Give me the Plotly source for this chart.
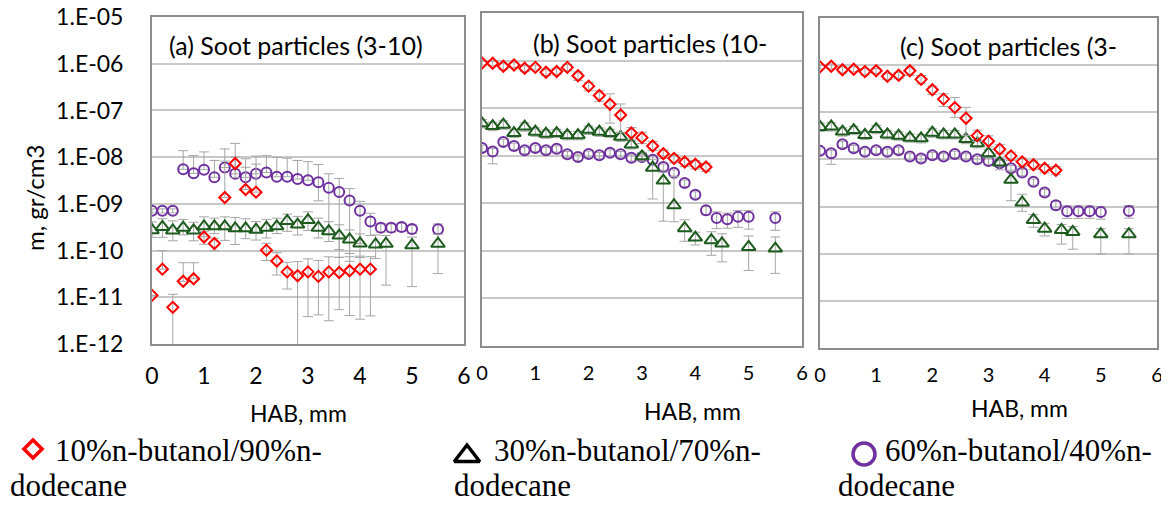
import plotly.graph_objects as go

# ---------------- data ----------------
x_red = [0, 0.2, 0.4, 0.6, 0.8, 1.0, 1.2, 1.4, 1.6, 1.8, 2.0, 2.2, 2.4, 2.6, 2.8, 3.0, 3.2, 3.4, 3.6, 3.8, 4.0, 4.2]
x_grn = [0, 0.2, 0.4, 0.6, 0.8, 1.0, 1.2, 1.4, 1.6, 1.8, 2.0, 2.2, 2.4, 2.6, 2.8, 3.0, 3.2, 3.4, 3.6, 3.8, 4.0, 4.3, 4.5, 5.0, 5.5]
x_pur = [0, 0.2, 0.4, 0.6, 0.8, 1.0, 1.2, 1.4, 1.6, 1.8, 2.0, 2.2, 2.4, 2.6, 2.8, 3.0, 3.2, 3.4, 3.6, 3.8, 4.0, 4.2, 4.4, 4.6, 4.8, 5.0, 5.5]

# panel (a)
ya_red = [1.1e-11, 4.0e-11, 6.1e-12, 2.2e-11, 2.5e-11, 1.95e-10, 1.42e-10, 1.37e-9, 7.3e-9, 2.03e-9, 1.78e-9,
          1.02e-10, 6.0e-11, 3.5e-11, 2.9e-11, 3.5e-11, 2.8e-11, 3.5e-11, 3.4e-11, 3.7e-11, 4.0e-11, 4.0e-11]
ua_red = [0, 1.5, 0.9, 1.5, 1.2, 0.3, 0.3, 5.0, 1.7, 2.0, 3.0, 0.4, 0.5, 0.6, 1.0, 0.9, 1.2, 1.1, 1.1, 1.0, 0.9, 0.85]
da_red = [0, 0, 0.95, 0, 0, 0.3, 0.3, 0, 0.5, 0, 0, 0.4, 0.5, 0.57, 0.99, 0.89, 0.85, 0.91, 0.84, 0.89, 0.915, 0.9]

ya_grn = [2.74e-10, 3.2e-10, 2.7e-10, 3.1e-10, 2.7e-10, 3.3e-10, 3.3e-10, 3.3e-10, 3.0e-10, 3.0e-10, 2.8e-10,
          3.1e-10, 3.3e-10, 4.3e-10, 3.6e-10, 4.5e-10, 3.1e-10, 2.6e-10, 2.1e-10, 1.73e-10, 1.42e-10,
          1.35e-10, 1.4e-10, 1.3e-10, 1.4e-10]
ua_grn = [0.5, 0.5, 0.6, 0.5, 0.5, 0.6, 0.5, 0.6, 0.7, 0.6, 0.5, 0.5, 0.5, 0.4, 0.5, 0.5, 0.6, 0.6, 0.7, 0.6, 0.6,
          0.6, 0.5, 0.5, 0.6]
da_grn = [0.3, 0.4, 0.4, 0.3, 0.4, 0.4, 0.3, 0.5, 0.55, 0.4, 0.4, 0.4, 0.3, 0.4, 0.4, 0.4, 0.4, 0.4, 0.5, 0.5, 0.5,
          0.5, 0.87, 0.87, 0.77]

ya_pur = [7.1e-10, 7.1e-10, 7.1e-10, 5.5e-9, 4.5e-9, 5.4e-9, 3.7e-9, 6.0e-9, 4.4e-9, 3.7e-9, 4.4e-9, 4.7e-9,
          3.8e-9, 3.8e-9, 3.4e-9, 3.2e-9, 2.9e-9, 2.2e-9, 1.8e-9, 1.18e-9, 7.1e-10, 4.2e-10, 3.1e-10, 3.1e-10,
          3.2e-10, 2.9e-10, 2.85e-10]
ua_pur = [0.1, 0.1, 0.1, 1.5, 1.4, 1.4, 1.3, 1.5, 1.3, 1.5, 1.4, 1.3, 1.6, 1.5, 1.5, 1.5, 1.4, 1.0, 0.95, 0.8,
          0.6, 0.5, 0.2, 0.2, 0.2, 0.2, 0.3]
da_pur = [0.1, 0.1, 0.1, 0, 0, 0, 0, 0, 0, 0, 0, 0, 0, 0, 0, 0, 0.6, 0.9, 0.96, 0.95, 0.8, 0.5, 0.2, 0.2,
          0.2, 0.2, 0.2]

# panel (b)
yb_red = [8.9e-7, 8.8e-7, 7.6e-7, 8.1e-7, 6.9e-7, 7.2e-7, 5.7e-7, 5.9e-7, 7.2e-7, 4.8e-7, 2.9e-7, 1.85e-7,
          1.21e-7, 7.2e-8, 3.0e-8, 2.4e-8, 1.6e-8, 1.1e-8, 8.8e-9, 7.4e-9, 6.6e-9, 5.8e-9]
ub_red = [0.1, 0.12, 0.15, 0.12, 0.15, 0.12, 0.15, 0.15, 0.15, 0.2, 0.2, 0.25, 0.65, 0.7, 0.3, 0.3, 0.25, 0.2,
          0.2, 0.2, 0.2, 0.2]
db_red = [0.1, 0.12, 0.15, 0.12, 0.15, 0.12, 0.15, 0.15, 0.15, 0.2, 0.2, 0.25, 0.6, 0.57, 0.25, 0.25, 0.2, 0.2,
          0.2, 0.2, 0.2, 0.2]

yb_grn = [4.8e-8, 4.2e-8, 4.5e-8, 3.0e-8, 4.1e-8, 3.2e-8, 2.9e-8, 3.0e-8, 2.7e-8, 2.7e-8, 3.5e-8, 3.2e-8,
          3.0e-8, 2.5e-8, 1.73e-8, 9.7e-9, 5.6e-9, 3.0e-9, 9.1e-10, 3.0e-10, 1.9e-10, 1.68e-10, 1.43e-10,
          1.21e-10, 1.12e-10]
ub_grn = [0.2, 0.2, 0.2, 0.2, 0.2, 0.2, 0.2, 0.2, 0.2, 0.2, 0.2, 0.2, 0.2, 0.2, 0.2, 0.2, 0.5, 0.5, 3.0, 0.5,
          0.3, 0.5, 0.6, 0.7, 0.75]
db_grn = [0.2, 0.2, 0.2, 0.2, 0.2, 0.2, 0.2, 0.2, 0.2, 0.2, 0.2, 0.2, 0.2, 0.2, 0.2, 0.2, 0.78, 0.86, 0.55, 0.47,
          0.3, 0.52, 0.59, 0.68, 0.7]

yb_pur = [1.45e-8, 1.23e-8, 1.94e-8, 1.6e-8, 1.3e-8, 1.45e-8, 1.3e-8, 1.4e-8, 1.07e-8, 9.4e-9, 1.09e-8, 1.02e-8,
          1.16e-8, 1.07e-8, 9.1e-9, 9.4e-9, 8.2e-9, 5.8e-9, 4.4e-9, 2.67e-9, 1.52e-9, 7.1e-10, 4.9e-10, 4.6e-10,
          5.2e-10, 5.2e-10, 4.9e-10]
ub_pur = [0.15, 0.15, 0.15, 0.15, 0.15, 0.15, 0.15, 0.15, 0.15, 0.15, 0.15, 0.15, 0.15, 0.15, 0.15, 0.15, 0.15,
          0.15, 0.15, 0.15, 0.15, 0.2, 0.35, 0.35, 0.35, 0.35, 0.35]
db_pur = [0.15, 0.45, 0.15, 0.15, 0.15, 0.15, 0.15, 0.15, 0.15, 0.15, 0.15, 0.15, 0.15, 0.15, 0.15, 0.15, 0.15,
          0.15, 0.15, 0.15, 0.15, 0.2, 0.4, 0.35, 0.4, 0.45, 0.45]

# panel (c)
yc_red = [9.2e-7, 9.5e-7, 8.0e-7, 8.2e-7, 7.3e-7, 7.6e-7, 5.8e-7, 6.1e-7, 7.6e-7, 5.0e-7, 3.0e-7, 1.9e-7,
          1.26e-7, 7.5e-8, 3.2e-8, 2.44e-8, 1.65e-8, 1.19e-8, 8.9e-9, 7.7e-9, 6.5e-9, 5.9e-9]
uc_red = [0.1, 0.12, 0.15, 0.12, 0.15, 0.12, 0.15, 0.15, 0.2, 0.2, 0.2, 0.3, 0.63, 0.7, 0.3, 0.3, 0.25, 0.2,
          0.2, 0.2, 0.2, 0.2]
dc_red = [0.1, 0.12, 0.15, 0.12, 0.15, 0.12, 0.15, 0.15, 0.2, 0.2, 0.2, 0.3, 0.38, 0.57, 0.25, 0.25, 0.2, 0.2,
          0.2, 0.2, 0.2, 0.2]

yc_grn = [4.9e-8, 5.0e-8, 3.9e-8, 4.2e-8, 3.3e-8, 4.4e-8, 3.4e-8, 3.2e-8, 2.9e-8, 2.8e-8, 3.7e-8, 3.4e-8,
          3.4e-8, 2.7e-8, 2.2e-8, 1.36e-8, 8.6e-9, 3.7e-9, 1.22e-9, 5.2e-10, 3.4e-10, 3.2e-10, 2.9e-10,
          2.6e-10, 2.6e-10]
uc_grn = [0.2, 0.2, 0.2, 0.2, 0.2, 0.2, 0.2, 0.2, 0.2, 0.2, 0.2, 0.2, 0.2, 0.2, 0.2, 0.2, 0.3, 0.6, 0.5, 0.3,
          0.3, 0.3, 0.3, 0.3, 0.3]
dc_grn = [0.2, 0.2, 0.2, 0.2, 0.2, 0.2, 0.2, 0.2, 0.2, 0.2, 0.2, 0.2, 0.2, 0.2, 0.2, 0.2, 0.3, 0.64, 0.35, 0.3,
          0.3, 0.5, 0.57, 0.62, 0.62]

yc_pur = [1.52e-8, 1.36e-8, 2.1e-8, 1.73e-8, 1.45e-8, 1.57e-8, 1.45e-8, 1.57e-8, 1.15e-8, 1.05e-8, 1.23e-8,
          1.15e-8, 1.3e-8, 1.15e-8, 1.01e-8, 9.3e-9, 8.3e-9, 6.5e-9, 5.3e-9, 3.35e-9, 1.99e-9, 1.07e-9, 8.0e-10,
          8.0e-10, 8.0e-10, 7.7e-10, 8.1e-10]
uc_pur = [0.15, 0.15, 0.15, 0.15, 0.15, 0.15, 0.15, 0.15, 0.15, 0.15, 0.15, 0.15, 0.15, 0.15, 0.15, 0.15, 0.15,
          0.15, 0.15, 0.15, 0.15, 0.2, 0.3, 0.3, 0.3, 0.3, 0.3]
dc_pur = [0.15, 0.42, 0.15, 0.15, 0.15, 0.15, 0.15, 0.15, 0.15, 0.15, 0.15, 0.15, 0.15, 0.15, 0.15, 0.15, 0.15,
          0.15, 0.15, 0.15, 0.15, 0.2, 0.3, 0.3, 0.3, 0.3, 0.3]

y_ticks = [1e-12, 1e-11, 1e-10, 1e-9, 1e-8, 1e-7, 1e-6, 1e-5]
y_ticktext = ["1.E-12", "1.E-11", "1.E-10", "1.E-09", "1.E-08", "1.E-07", "1.E-06", "1.E-05"]
x_ticks = [0, 1, 2, 3, 4, 5, 6]
panel_titles = ["(a) Soot particles (3-10)", "(b) Soot particles (10-", "(c) Soot particles (3-"]
series_names = ["10%n-butanol/90%n-", "30%n-butanol/70%n-", "60%n-butanol/40%n-"]
series_line2 = "dodecane"

# ---------------- style ----------------
PAGE_W, PAGE_H = 1169, 505
OFF = 8                      # default body margin of the html page
W, H = PAGE_W - OFF, PAGE_H - OFF
RED, GRN, PUR = "#FF0000", "#1E5B1E", "#7030A0"
ERR = "#A6A6A6"
FONT = "Lato"
SERIF = "Liberation Serif"

# plot boxes in page pixels: (left, right, top, bottom)
boxes = [(152, 464, 17, 344), (482, 802, 13, 346), (820, 1157, 18, 348)]
xtick_size = [23, 20, 20]
xtick_standoff = [10, 8, 8]


def px(x):
    return (x - OFF) / W


def py(y):
    return 1 - (y - OFF) / H


fig = go.Figure()


def add_series(k, x, y, up, dn, symbol, color, size):
    xa = "x" if k == 0 else f"x{k+1}"
    ya = "y" if k == 0 else f"y{k+1}"
    fig.add_trace(go.Scatter(
        x=x, y=y, mode="markers", xaxis=xa, yaxis=ya, showlegend=False,
        marker=dict(symbol=symbol, size=size, color=color, line=dict(color=color, width=2)),
        error_y=dict(type="data", symmetric=False,
                     array=[v * u for v, u in zip(y, up)],
                     arrayminus=[v * d for v, d in zip(y, dn)],
                     color=ERR, thickness=1, width=5),
    ))


panels = [
    (ya_red, ua_red, da_red, ya_grn, ua_grn, da_grn, ya_pur, ua_pur, da_pur),
    (yb_red, ub_red, db_red, yb_grn, ub_grn, db_grn, yb_pur, ub_pur, db_pur),
    (yc_red, uc_red, dc_red, yc_grn, uc_grn, dc_grn, yc_pur, uc_pur, dc_pur),
]

for k, (yr, ur, dr, yg, ug, dg, yp, up, dp) in enumerate(panels):
    add_series(k, x_pur, yp, up, dp, "circle-open", PUR, 10)
    add_series(k, x_grn, yg, ug, dg, "triangle-up-open", GRN, 12)
    add_series(k, x_red, yr, ur, dr, "diamond-open", RED, 8.5)

for k, (l, r, t, b) in enumerate(boxes):
    sfx = "" if k == 0 else str(k + 1)
    fig.layout["xaxis" + sfx] = dict(
        domain=[px(l), px(r)], anchor="y" + sfx, range=[0, 6], tickvals=x_ticks, automargin=False,
        showgrid=False, zeroline=False, showline=True, linecolor="#8C8C8C", linewidth=2, mirror=True,
        ticks="", ticklabelstandoff=xtick_standoff[k], ticklabeloverflow="allow",
        tickfont=dict(family=FONT, size=xtick_size[k], color="black"),
    )
    fig.layout["yaxis" + sfx] = dict(
        domain=[py(b), py(t)], anchor="x" + sfx, type="log", range=[-12, -4.9995], automargin=False,
        tickvals=y_ticks, ticktext=y_ticktext, showticklabels=(k == 0), ticklabeloverflow="allow",
        showgrid=True, gridcolor="#C8C8C8", gridwidth=1.5, zeroline=False,
        showline=True, linecolor="#8C8C8C", linewidth=2, mirror=True, ticks="",
        ticklabelstandoff=22, tickfont=dict(family=FONT, size=23, color="black"),
    )

# overlay axis for legend keys (page pixel coordinates)
fig.layout["xaxis4"] = dict(domain=[0, 1], anchor="y4", range=[OFF, PAGE_W], visible=False, fixedrange=True,
                            automargin=False)
fig.layout["yaxis4"] = dict(domain=[0, 1], anchor="x4", range=[PAGE_H, OFF], visible=False, fixedrange=True,
                            automargin=False)
legend_keys = [(33, 449, "diamond-open", RED, 14), (467, 456, "triangle-up-open", "black", 22),
               (864, 454, "circle-open", PUR, 22)]
for lx, ly, sym, col, sz in legend_keys:
    fig.add_trace(go.Scatter(x=[lx], y=[ly], xaxis="x4", yaxis="y4", mode="markers", showlegend=False,
                             hoverinfo="skip",
                             marker=dict(symbol=sym, size=sz, color=col, line=dict(color=col, width=3.5))))

ann = []
# panel titles
title_pos = [(296, 45), (650, 43), (1008, 46)]
for (tx, ty), txt in zip(title_pos, panel_titles):
    ann.append(dict(x=px(tx), y=py(ty), xref="paper", yref="paper", text=txt, showarrow=False,
                    xanchor="center", yanchor="middle", font=dict(family=FONT, size=25, color="black")))
# x axis titles
for tx, ty in [(298, 413), (692, 411), (1019, 408)]:
    ann.append(dict(x=px(tx), y=py(ty), xref="paper", yref="paper", text="HAB, mm", showarrow=False,
                    xanchor="center", yanchor="middle", font=dict(family=FONT, size=23, color="black")))
# y axis title
ann.append(dict(x=px(34), y=py(198), xref="paper", yref="paper", text="m, gr/cm3", showarrow=False,
                textangle=-90, xanchor="center", yanchor="middle", font=dict(family=FONT, size=24, color="black")))
# legend text
leg_text_x = [53, 492, 883]
leg_line2_x = [8, 452, 836]
for i, name in enumerate(series_names):
    ann.append(dict(x=px(leg_text_x[i]), y=py(450), xref="paper", yref="paper", text=name, showarrow=False,
                    xanchor="left", yanchor="middle", font=dict(family=SERIF, size=31, color="black")))
    ann.append(dict(x=px(leg_line2_x[i]), y=py(485), xref="paper", yref="paper", text=series_line2,
                    showarrow=False, xanchor="left", yanchor="middle",
                    font=dict(family=SERIF, size=31, color="black")))

fig.update_layout(
    width=W, height=H, margin=dict(l=0, r=0, t=0, b=0, pad=0),
    paper_bgcolor="white", plot_bgcolor="rgba(0,0,0,0)", annotations=ann,
)

fig.write_html("out.html")
